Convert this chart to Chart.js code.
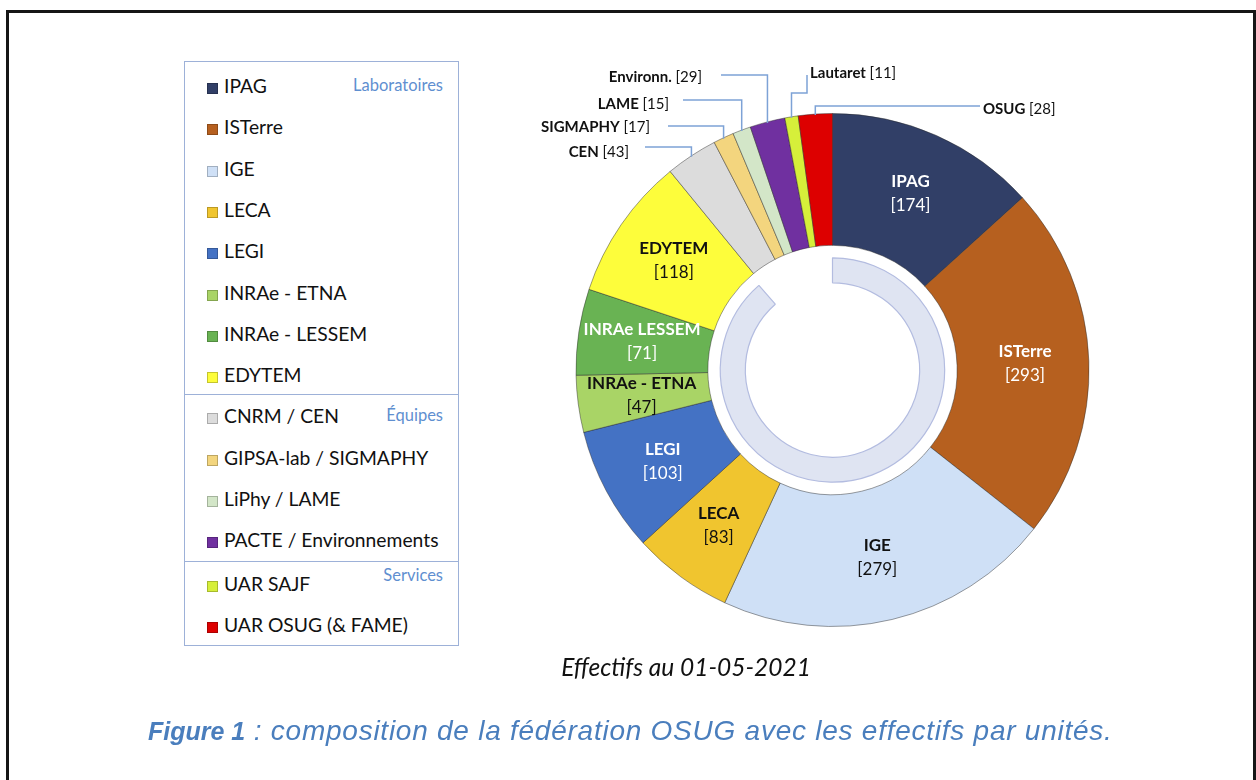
<!DOCTYPE html>
<html lang="fr">
<head>
<meta charset="utf-8">
<title>OSUG – effectifs par unités</title>
<script src="https://cdn.jsdelivr.net/npm/chart.js@4.4.1/dist/chart.umd.min.js"></script>
<style>
  html, body { margin: 0; padding: 0; background: #fff; }
  #page { position: relative; width: 1256px; height: 780px; overflow: hidden; font-family: Lato, 'Open Sans', sans-serif; }
  #frame { position: absolute; left: 6px; top: 10px; width: 1250px; height: 800px; border: 3px solid #161616; box-sizing: border-box; }
  #chart { position: absolute; left: 0; top: 0; }
  #legend { position: absolute; left: 184px; top: 61px; width: 275px; height: 585px; border: 1.5px solid #9db1d8; box-sizing: border-box; }
  .row { position: absolute; left: 22px; height: 24px; line-height: 24px; font-size: 19.3px; color: #111; white-space: nowrap; }
  .sw { display: inline-block; width: 11px; height: 11px; margin-right: 6px; vertical-align: -1px; box-shadow: inset 0 0 0 1px rgba(0,0,0,0.22); }
  .divider { position: absolute; left: 0; right: 0; height: 0; border-top: 1.5px solid #9db1d8; }
  .group { position: absolute; right: 15px; font-size: 16.5px; color: #5f8fd0; line-height: 20px; }
  #subtitle { position: absolute; left: 0; width: 1372px; top: 652px; text-align: center; font-style: italic; font-size: 24.5px; color: #111; }
  #caption { position: absolute; left: 148px; top: 715px; font-family: 'Liberation Sans', Arial, sans-serif; font-style: italic; font-size: 28px; letter-spacing: 0.75px; color: #4a7ebd; white-space: nowrap; }
  #caption b { font-size: 25px; letter-spacing: 0; }
</style>
</head>
<body>
<div id="page">
  <div id="frame"></div>
  <div id="legend"></div>
  <canvas id="chart" width="1256" height="780"></canvas>
  <div id="subtitle">Effectifs au 01-05-2021</div>
  <div id="caption"><b>Figure 1</b> : composition de la fédération OSUG avec les effectifs par unités.</div>
</div>
<script>
// Effectifs par unité, dans l'ordre du camembert (sens horaire depuis midi)
const units = ['IPAG', 'ISTerre', 'IGE', 'LECA', 'LEGI', 'INRAe - ETNA', 'INRAe LESSEM', 'EDYTEM',
               'CEN', 'SIGMAPHY', 'LAME', 'Environn.', 'Lautaret', 'OSUG'];
const staff = [174, 293, 279, 83, 103, 47, 71, 118, 43, 17, 15, 29, 11, 28];
const legendNames = ['IPAG', 'ISTerre', 'IGE', 'LECA', 'LEGI', 'INRAe - ETNA', 'INRAe - LESSEM', 'EDYTEM',
                     'CNRM / CEN', 'GIPSA-lab / SIGMAPHY', 'LiPhy / LAME', 'PACTE / Environnements',
                     'UAR SAJF', 'UAR OSUG (& FAME)'];
const groupTitles = ['Laboratoires', 'Équipes', 'Services'];
const fills = ['#313f67', '#b6601f', '#cfe0f6', '#f0c52f', '#4472c4', '#a9d466', '#69b353', '#fdfd3b',
               '#dcdcdc', '#f3d57e', '#d3e6c8', '#7030a0', '#d6ef3a', '#dd0000'];
// couleur du texte dans la part (null = étiquette extérieure)
const insideInk = ['#fff', '#fff', '#111', '#111', '#fff', '#111', '#fff', '#111', null, null, null, null, null, null];
// anneau décoratif intérieur : arc tracé / vide (degrés)
const ringArc = [319, 41];

// ─── Légende HTML ──────────────────────────────────────────────
const legend = document.getElementById('legend');
const LEG_TOP = 61;
function rowCenter(i) { return 85 + i * 41.3 + (i >= 12 ? 2.5 : 0); }

legendNames.forEach((name, i) => {
    const row = document.createElement('div');
    row.className = 'row';
    row.style.top = (rowCenter(i) - LEG_TOP - 12) + 'px';
    row.innerHTML = `<span class="sw" style="background:${fills[i]}"></span>${name}`;
    legend.appendChild(row);
});
[394, 561].forEach(y => {
    const d = document.createElement('div');
    d.className = 'divider';
    d.style.top = (y - LEG_TOP - 1) + 'px';
    legend.appendChild(d);
});
[85, 415, 575].forEach((y, g) => {
    const t = document.createElement('div');
    t.className = 'group';
    t.style.top = (y - LEG_TOP - 11) + 'px';
    t.textContent = groupTitles[g];
    legend.appendChild(t);
});

// ─── Étiquettes des parts ──────────────────────────────────────
// emplacement du texte extérieur et début du trait de rappel (px)
const outsideSpots = {
    8:  { x: 629, y: 152, align: 'right', path: [[645, 147]] },
    9:  { x: 650, y: 127, align: 'right', path: [[668, 126]] },
    10: { x: 669, y: 104, align: 'right', path: [[683, 100]] },
    11: { x: 702, y: 77,  align: 'right', path: [[721, 75]] },
    12: { x: 810, y: 73,  align: 'left',  path: [[807, 75], [807, 93]] },
    13: { x: 983, y: 109, align: 'left',  path: [[980, 106]] }
};

const sliceLabels = {
    id: 'sliceLabels',
    afterDatasetsDraw(chart) {
        const ctx = chart.ctx;
        const arcs = chart.getDatasetMeta(0).data;
        ctx.save();
        arcs.forEach((arc, i) => {
            const { x, y, startAngle, endAngle, innerRadius, outerRadius } =
                arc.getProps(['x', 'y', 'startAngle', 'endAngle', 'innerRadius', 'outerRadius'], true);
            const mid = (startAngle + endAngle) / 2;
            const count = `[${staff[i]}]`;

            if (insideInk[i]) {
                const r = (innerRadius + outerRadius) / 2 + 2;
                const lx = x + Math.cos(mid) * r;
                const ly = y + Math.sin(mid) * r;
                ctx.textAlign = 'center';
                ctx.textBaseline = 'middle';
                ctx.fillStyle = insideInk[i];
                ctx.font = 'bold 17px Lato';
                ctx.fillText(units[i], lx, ly - 12);
                ctx.font = '17px Lato';
                ctx.fillText(count, lx, ly + 12);
                return;
            }

            const o = outsideSpots[i];
            const ax = x + Math.cos(mid) * outerRadius;
            const ay = y + Math.sin(mid) * outerRadius;
            ctx.strokeStyle = '#7da2d6';
            ctx.lineWidth = 1.5;
            ctx.beginPath();
            ctx.moveTo(o.path[0][0], o.path[0][1]);
            o.path.slice(1).forEach(p => ctx.lineTo(p[0], p[1]));
            const lastY = o.path[o.path.length - 1][1];
            ctx.lineTo(ax, lastY);
            ctx.lineTo(ax, ay + 1);
            ctx.stroke();

            ctx.textAlign = 'left';
            ctx.textBaseline = 'middle';
            ctx.font = 'bold 15px Lato';
            const nameW = ctx.measureText(units[i] + ' ').width;
            ctx.font = '15px Lato';
            const countW = ctx.measureText(count).width;
            const left = o.align === 'right' ? o.x - nameW - countW : o.x;
            ctx.fillStyle = '#111';
            ctx.font = 'bold 15px Lato';
            ctx.fillText(units[i], left, o.y);
            ctx.font = '15px Lato';
            ctx.fillText(count, left + nameW, o.y);
        });
        ctx.restore();
    }
};

// ─── Graphique ─────────────────────────────────────────────────
Promise.all([
    document.fonts.load('bold 15px Lato'),
    document.fonts.load('15px Lato')
]).catch(() => {}).then(() => {
    new Chart(document.getElementById('chart'), {
        type: 'doughnut',
        data: {
            labels: units,
            datasets: [
                {
                    data: staff,
                    backgroundColor: fills,
                    borderColor: 'rgba(40,40,40,0.45)',
                    borderWidth: 1,
                    weight: 132
                },
                {
                    // espace blanc entre la couronne et l'anneau
                    data: [1],
                    backgroundColor: ['rgba(0,0,0,0)'],
                    borderWidth: 0,
                    weight: 12.5
                },
                {
                    data: ringArc,
                    backgroundColor: ['#dfe4f2', 'rgba(0,0,0,0)'],
                    borderColor: ['#b3bce0', 'rgba(0,0,0,0)'],
                    borderWidth: [1.2, 0],
                    weight: 25
                }
            ]
        },
        options: {
            responsive: false,
            animation: false,
            events: [],
            cutout: '34%',
            hoverOffset: 0,
            layout: { padding: { left: 575.5, top: 113, right: 166.5, bottom: 153 } },
            plugins: {
                legend: { display: false },
                tooltip: { enabled: false }
            }
        },
        plugins: [sliceLabels]
    });
});
</script>
</body>
</html>
